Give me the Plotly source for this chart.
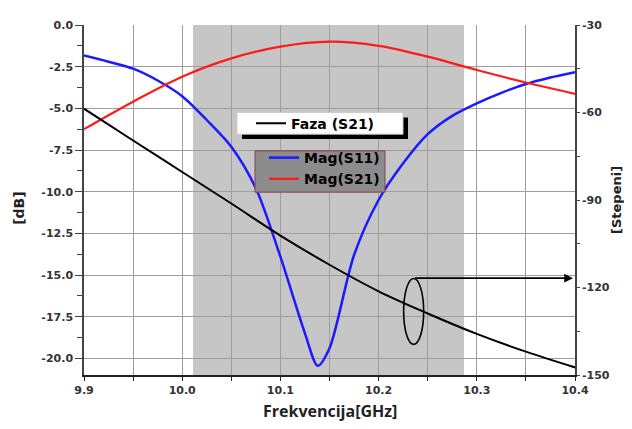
import plotly.graph_objects as go

# ---------------- data ----------------
freq_s11 = [9.90, 9.925, 9.95, 9.975, 10.00, 10.025, 10.05, 10.075, 10.10, 10.125, 10.138, 10.15,
            10.175, 10.20, 10.225, 10.25, 10.275, 10.30, 10.325, 10.35, 10.375, 10.40]
mag_s11 = [-1.83, -2.2, -2.62, -3.33, -4.27, -5.7, -7.3, -9.8, -13.9, -18.5, -20.45, -19.4,
           -13.8, -10.5, -8.3, -6.55, -5.45, -4.7, -4.07, -3.54, -3.15, -2.83]

freq_s21 = [9.90, 9.95, 10.00, 10.05, 10.10, 10.15, 10.20, 10.25, 10.30, 10.35, 10.40]
mag_s21 = [-6.25, -4.6, -3.1, -2.0, -1.3, -1.0, -1.25, -1.9, -2.7, -3.45, -4.13]

freq_phase = [9.90, 9.95, 10.00, 10.05, 10.10, 10.15, 10.20, 10.25, 10.30, 10.35, 10.40]
phase_s21 = [-58.7, -69.6, -80.4, -91.2, -102.2, -112.2, -121.3, -128.9, -135.9, -142.0, -147.4]

x_tickvals = [9.9, 10.0, 10.1, 10.2, 10.3, 10.4]
x_ticktext = ["9.9", "10.0", "10.1", "10.2", "10.3", "10.4"]
y_tickvals = [0, -2.5, -5, -7.5, -10, -12.5, -15, -17.5, -20]
y_ticktext = ["0.0", "-2.5", "-5.0", "-7.5", "-10.0", "-12.5", "-15.0", "-17.5", "-20.0"]
y2_tickvals = [-30, -60, -90, -120, -150]
y2_ticktext = ["-30", "-60", "-90", "-120", "-150"]

band = [10.011, 10.287]              # shaded frequency band
ellipse_x = [10.2255, 10.2459]       # marker ellipse around the phase curve
ellipse_y = [-19.16, -15.21]
arrow_from = [10.2357, -15.19]
arrow_to = [10.398, -15.19]

# ---------------- figure ----------------
# page body has an 8px margin, so the figure is placed at (8, 8) in the window
OFF = 8
W, H = 616, 413
PX0, PX1, PY0, PY1 = 84, 575, 19, 375      # plot area in window pixels
L, R = PX0 - OFF, W - (PX1 - OFF)
T, B = PY0 - OFF, H - (PY1 - OFF)


def px_x(px):
    return (px - PX0) / (PX1 - PX0)


def px_y(py):
    return (PY1 - py) / (PY1 - PY0)


tick_font = dict(family="DejaVu Sans", size=11, color="#333333", weight="bold")
leg_font = dict(family="DejaVu Sans", size=14, color="black", weight="bold")

fig = go.Figure()
fig.add_trace(go.Scatter(x=freq_phase, y=phase_s21, yaxis="y2", mode="lines",
                         name="Faza (S21)", line=dict(color="black", width=2, shape="spline"),
                         legend="legend", showlegend=True))
fig.add_trace(go.Scatter(x=freq_s11, y=mag_s11, mode="lines", name="Mag(S11)",
                         line=dict(color="#1a1aff", width=2.5, shape="spline", smoothing=0.8),
                         legend="legend2", showlegend=True))
fig.add_trace(go.Scatter(x=freq_s21, y=mag_s21, mode="lines", name="Mag(S21)",
                         line=dict(color="#ff1a1a", width=2.2, shape="spline"),
                         legend="legend2", showlegend=True))

shapes = [
    dict(type="rect", xref="x", yref="paper", x0=band[0], x1=band[1], y0=0, y1=1,
         fillcolor="#c6c6c6", line=dict(width=0), layer="below"),
    dict(type="circle", xref="x", yref="y", x0=ellipse_x[0], x1=ellipse_x[1],
         y0=ellipse_y[0], y1=ellipse_y[1], line=dict(color="black", width=1.6)),
    # legend 1 box with shadow
    dict(type="rect", xref="paper", yref="paper", x0=px_x(242), x1=px_x(408),
         y0=px_y(135), y1=px_y(113), fillcolor="black", line=dict(width=0)),
    dict(type="rect", xref="paper", yref="paper", x0=px_x(237), x1=px_x(403),
         y0=px_y(130), y1=px_y(108), fillcolor="white", line=dict(color="#cccccc", width=1)),
    # legend 2 box
    dict(type="rect", xref="paper", yref="paper", x0=px_x(255), x1=px_x(385),
         y0=px_y(189), y1=px_y(147), fillcolor="#8c8c8c", line=dict(color="#8b3a4a", width=1)),
]

title_font = dict(family="DejaVu Sans", size=14, color="#222222", weight="bold")
annotations = [
    dict(x=arrow_to[0], y=arrow_to[1], ax=arrow_from[0], ay=arrow_from[1],
         xref="x", yref="y", axref="x", ayref="y", text="", showarrow=True,
         arrowhead=2, arrowsize=1.1, arrowwidth=1.6, arrowcolor="black"),
    dict(text="[dB]", xref="paper", yref="paper", x=px_x(19), y=px_y(205), textangle=-90,
         xanchor="center", yanchor="middle", showarrow=False, font=title_font),
    dict(text="[Stepeni]", xref="paper", yref="paper", x=px_x(616), y=px_y(197), textangle=-90,
         xanchor="center", yanchor="middle", showarrow=False,
         font=dict(family="DejaVu Sans", size=13, color="#222222", weight="bold")),
    dict(text="Frekvencija[GHz]", xref="paper", yref="paper", x=px_x(330), y=px_y(412),
         xanchor="center", yanchor="middle", showarrow=False,
         font=dict(family="Open Sans", size=16, color="#222222", weight="bold")),
]

grid = "#9e9e9e"
fig.update_layout(
    width=W, height=H, autosize=False, showlegend=True,
    margin=dict(l=L, r=R, t=T, b=B, pad=0),
    paper_bgcolor="white", plot_bgcolor="white",
    shapes=shapes, annotations=annotations,
    legend=dict(x=px_x(251), y=px_y(103), xanchor="left", yanchor="top",
                bgcolor="rgba(0,0,0,0)", borderwidth=0, font=leg_font),
    legend2=dict(x=px_x(264), y=px_y(138), xanchor="left", yanchor="top",
                 bgcolor="rgba(0,0,0,0)", borderwidth=0, font=leg_font, tracegroupgap=0),
    xaxis=dict(range=[9.9, 10.4], tickmode="array", tickvals=x_tickvals, ticktext=x_ticktext,
               showgrid=True, gridcolor=grid, gridwidth=1, zeroline=False,
               showline=True, linecolor="#222222", linewidth=1.5,
               ticks="outside", ticklen=4, tickcolor="#222222", tickfont=tick_font,
               minor=dict(tickmode="linear", tick0=9.9, dtick=0.05, showgrid=True,
                          gridcolor=grid, ticks="outside", ticklen=4, tickcolor="#222222")),
    yaxis=dict(range=[-21, 0], tickmode="array", tickvals=y_tickvals, ticktext=y_ticktext,
               showgrid=True, gridcolor=grid, gridwidth=1, zeroline=False,
               showline=True, linecolor="#444444", linewidth=1.5,
               ticks="outside", ticklen=7, tickcolor="#444444", tickfont=tick_font,
               minor=dict(tickmode="linear", tick0=0, dtick=1.25, ticks="outside",
                          ticklen=5, tickcolor="#444444", showgrid=False)),
    yaxis2=dict(range=[-150, -30], overlaying="y", side="right", tickmode="array",
                tickvals=y2_tickvals, ticktext=y2_ticktext, showgrid=False, zeroline=False,
                showline=True, linecolor="#444444", linewidth=1.5,
                ticks="outside", ticklen=3, tickcolor="#444444", tickfont=tick_font,
                minor=dict(tickmode="linear", tick0=-30, dtick=15, ticks="outside",
                           ticklen=3, tickcolor="#444444", showgrid=False)),
)

fig.write_html("out.html")
